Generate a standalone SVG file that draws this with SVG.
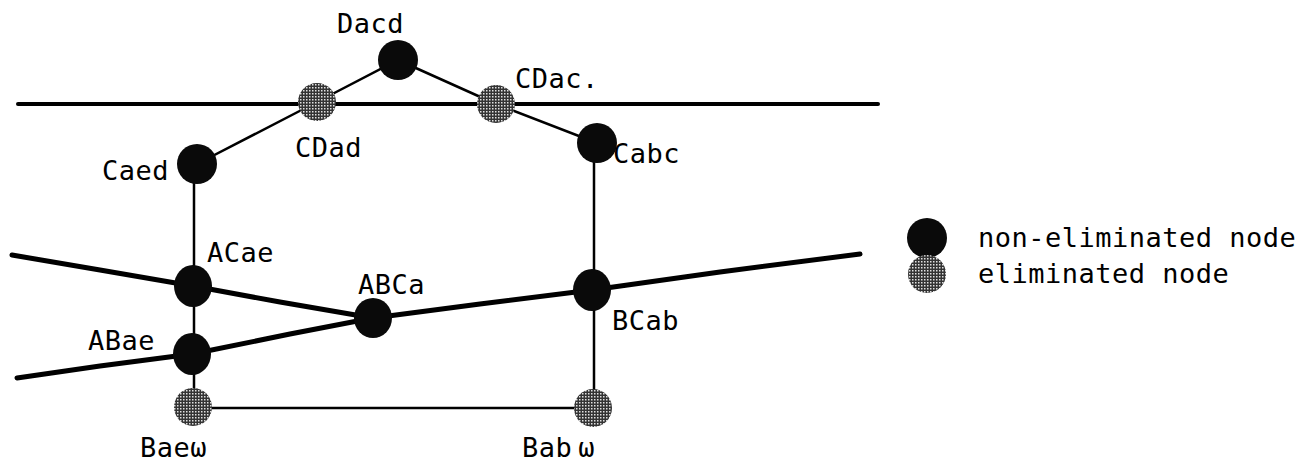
<svg xmlns="http://www.w3.org/2000/svg" width="1310" height="476" viewBox="0 0 1310 476">
<style>
.thin{stroke:#000;stroke-width:2.5;fill:none;stroke-linecap:round}
.thick{stroke:#000;stroke-width:5;fill:none;stroke-linejoin:round;stroke-linecap:round}
.ne{fill:#0a0a0a}
.el{fill:url(#hatch)}
text{font-family:"DejaVu Sans Mono","Liberation Mono",monospace;font-size:27px;letter-spacing:0.5px;fill:#000}
</style>
<defs>
<pattern id="hatch" width="3" height="3" patternUnits="userSpaceOnUse">
<rect width="3" height="3" fill="#333"/>
<rect x="0" y="0" width="1.5" height="1.5" fill="#e0e0e0"/>
</pattern>
</defs>
<rect width="1310" height="476" fill="#fff"/>
<g id="connectors">
<line class="thick" x1="18" y1="104" x2="878" y2="104" style="stroke-width:4"/>
<polyline class="thin" points="197,164 317,102 398,60 496,104 597,143"/>
<line class="thin" x1="194" y1="164" x2="194" y2="407"/>
<line class="thin" x1="594" y1="143" x2="594" y2="408"/>
<line class="thin" x1="193" y1="408" x2="593" y2="408"/>
<polyline class="thick" points="12,255 100,270 193,286 280,302 373,318 480,304 592,290 720,272 860,254"/>
<polyline class="thick" points="17,378 100,366 192,354 290,334 373,318"/>
</g>
<g id="Dacd"><circle class="ne" cx="398" cy="60" r="20"/><text x="337" y="33">Dacd</text></g>
<g id="CDad"><circle class="el" cx="317" cy="102" r="19"/><text x="295" y="157">CDad</text></g>
<g id="CDac"><circle class="el" cx="496" cy="104" r="19"/><text x="515" y="88">CDac.</text></g>
<g id="Caed"><circle class="ne" cx="197" cy="164" r="20"/><text x="102" y="180">Caed</text></g>
<g id="Cabc"><circle class="ne" cx="597" cy="143" r="20"/><text x="613" y="163">Cabc</text></g>
<g id="ACae"><ellipse class="ne" cx="193" cy="286" rx="19" ry="21"/><text x="207" y="262">ACae</text></g>
<g id="ABCa"><ellipse class="ne" cx="373" cy="318" rx="19" ry="20"/><text x="358" y="294">ABCa</text></g>
<g id="BCab"><ellipse class="ne" cx="592" cy="290" rx="19" ry="21"/><text x="612" y="330">BCab</text></g>
<g id="ABae"><ellipse class="ne" cx="192" cy="354" rx="19" ry="21"/><text x="88" y="350">ABae</text></g>
<g id="Baew"><circle class="el" cx="193" cy="407" r="19"/><text x="140" y="457">Baeω</text></g>
<g id="Babw"><circle class="el" cx="593" cy="408" r="19"/><text x="522" y="457">Bab<tspan dx="6">ω</tspan></text></g>
<g id="legend">
<circle class="ne" cx="927" cy="238" r="20"/>
<text x="978" y="247">non-eliminated node</text>
<circle class="el" cx="927" cy="274" r="19"/>
<text x="978" y="283">eliminated node</text>
</g>
</svg>
